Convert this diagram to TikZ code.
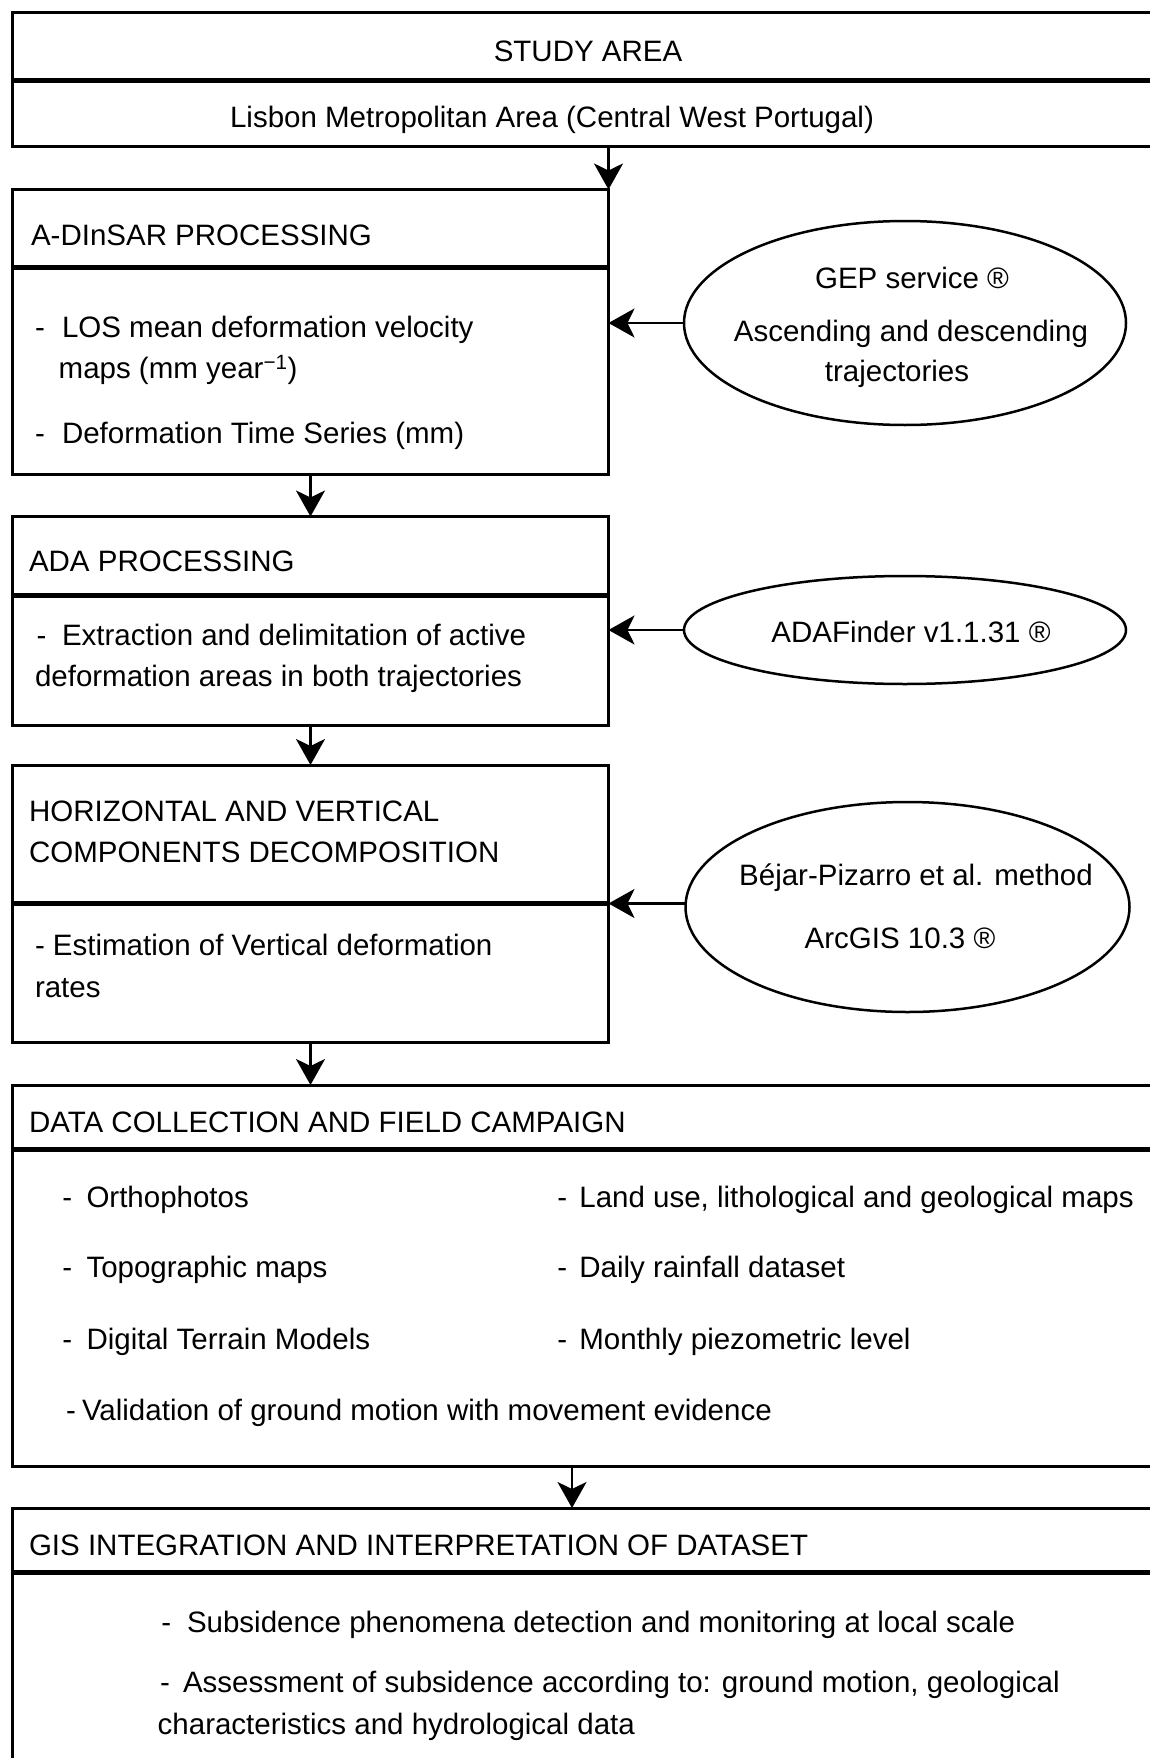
\documentclass[tikz,border=0pt]{standalone}
\usepackage{fontspec}
\setmainfont{Liberation Sans}
\usetikzlibrary{arrows.meta,shapes.geometric}
\begin{document}
\begin{tikzpicture}[x=1pt,y=-1pt,
  every node/.style={font=\fontsize{29.5pt}{35pt}\selectfont},
  box/.style={draw, line width=3pt, rectangle, inner sep=0pt, outer sep=0pt, anchor=north west},
  divider/.style={line width=5pt},
  ell/.style={draw, ellipse, line width=2.5pt, inner sep=0pt, outer sep=0pt},
  arr/.style={line width=2.5pt, -{Stealth[length=26pt,width=29pt,inset=7pt]}},
  txt/.style={inner sep=0pt, outer sep=0pt, anchor=base west},
  ctxt/.style={inner sep=0pt, outer sep=0pt, anchor=base},
]
\useasboundingbox (0,0) rectangle (1150,1758);
\clip (0,0) rectangle (1150,1758);
\fill[white] (0,0) rectangle (1150,1758);

% STUDY AREA
\node[box, minimum width=1200pt, minimum height=133.5pt] (study) at (12.5,13) {};
\draw[divider] (12.5,80.5) -- (1200,80.5);
\node[ctxt] (t1) at (588,61.7) {STUDY AREA};
\node[ctxt] (t2) at (552,127.5) {Lisbon Metropolitan Area (Central West Portugal)};

% A-DInSAR
\node[box, minimum width=596pt, minimum height=284.5pt] (adin) at (12.5,189.5) {};
\draw[divider] (12.5,267) -- (608.5,267);
\node[txt] (a1) at (31,245.5) {A-DInSAR PROCESSING};
\node[txt] (a2) at (35,337) {-};
\node[txt] (a3) at (62,337) {LOS mean deformation velocity};
\node[txt] (a4) at (58.7,378.5) {maps (mm year\textsuperscript{−1})};
\node[txt] (a5) at (35,443.5) {-};
\node[txt] (a6) at (62,443.5) {Deformation Time Series (mm)};

\node[ell, minimum width=442pt, minimum height=204pt] (gep) at (905,323) {};
\node[ctxt] (g1) at (912,288.5) {GEP service ®};
\node[ctxt] (g2) at (911,341.5) {Ascending and descending};
\node[ctxt] (g3) at (897,381) {trajectories};

\draw[arr] (study.south -| adin.east) -- (adin.north east);
\draw[arr] (gep.west) -- (gep.west -| adin.east);

% ADA
\node[box, minimum width=596pt, minimum height=208.5pt] (ada) at (12.5,516.5) {};
\draw[divider] (12.5,595.5) -- (608.5,595.5);
\node[txt] (d1) at (29,571) {ADA PROCESSING};
\node[txt] (d2) at (36.7,645) {-};
\node[txt] (d3) at (62,645) {Extraction and delimitation of active};
\node[txt] (d4) at (35,686) {deformation areas in both trajectories};

\node[ell, minimum width=442pt, minimum height=108pt] (adaf) at (905,630) {};
\node[ctxt] (f1) at (911,642) {ADAFinder v1.1.31 ®};

\draw[arr] (adin.south) -- (ada.north);
\draw[arr] (adaf.west) -- (adaf.west -| ada.east);

% HORIZONTAL / VERTICAL
\node[box, minimum width=596pt, minimum height=277pt] (hv) at (12.5,765) {};
\draw[divider] (12.5,903.5) -- (608.5,903.5);
\node[txt] (h1) at (29,821) {HORIZONTAL AND VERTICAL};
\node[txt] (h2) at (29,862) {COMPONENTS DECOMPOSITION};
\node[txt] (h3) at (35,955) {- Estimation of Vertical deformation};
\node[txt] (h4) at (35,997) {rates};

\node[ell, minimum width=444pt, minimum height=210pt] (bej) at (907.5,907) {};
\node[ctxt] (b1) at (916,885.5) {Béjar-Pizarro et al. method};
\node[ctxt] (b2) at (900,948) {ArcGIS 10.3 ®};

\draw[arr] (ada.south) -- (hv.north);
\coordinate (hvin) at (608.5,903.5);
\draw[arr] (bej.west |- hvin) -- (hvin);

% DATA COLLECTION
\node[box, minimum width=1200pt, minimum height=381pt] (data) at (12.5,1085) {};
\draw[divider] (12.5,1149) -- (1200,1149);
\node[txt] (c1) at (29,1132) {DATA COLLECTION AND FIELD CAMPAIGN};
\node[txt] (c2) at (62.3,1207) {-};
\node[txt] (c3) at (86.5,1207) {Orthophotos};
\node[txt] (c4) at (62.3,1277) {-};
\node[txt] (c5) at (86.5,1277) {Topographic maps};
\node[txt] (c6) at (62.3,1349) {-};
\node[txt] (c7) at (86.5,1349) {Digital Terrain Models};
\node[txt] (c8) at (557.4,1207) {-};
\node[txt] (c9) at (579.4,1207) {Land use, lithological and geological maps};
\node[txt] (c10) at (557.4,1277) {-};
\node[txt] (c11) at (579.4,1277) {Daily rainfall dataset};
\node[txt] (c12) at (557.4,1349) {-};
\node[txt] (c13) at (579.4,1349) {Monthly piezometric level};
\node[txt] (c14) at (66,1420.5) {-};
\node[txt] (c15) at (82,1420.5) {Validation of ground motion with movement evidence};

\draw[arr] (hv.south) -- (hv.south |- data.north);

% GIS
\node[box, minimum width=1200pt, minimum height=300pt] (gis) at (12.5,1508) {};
\draw[divider] (12.5,1572) -- (1200,1572);
\node[txt] (s1) at (29,1555.5) {GIS INTEGRATION AND INTERPRETATION OF DATASET};
\node[txt] (s2) at (161.3,1632) {-};
\node[txt] (s3) at (187,1632) {Subsidence phenomena detection and monitoring at local scale};
\node[txt] (s4) at (160,1692) {-};
\node[txt] (s5) at (183,1692) {Assessment of subsidence according to: ground motion, geological};
\node[txt] (s6) at (157.7,1734) {characteristics and hydrological data};

\coordinate (gisin) at (572,1508);
\draw[arr] (data.south -| gisin) -- (gisin);
\end{tikzpicture}
\end{document}
